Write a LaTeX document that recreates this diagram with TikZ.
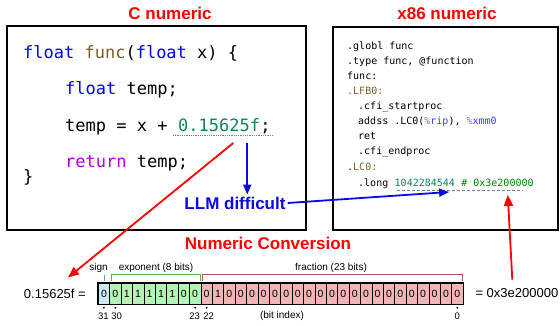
\documentclass[tikz,border=0pt]{standalone}
\usepackage{fontspec}
\setmainfont{Liberation Sans}
\setmonofont{DejaVu Sans Mono}
\usetikzlibrary{arrows.meta,positioning,calc}

\definecolor{kwblue}{HTML}{0000FF}
\definecolor{fnbrown}{HTML}{795E26}
\definecolor{retpurple}{HTML}{AF00DB}
\definecolor{numgreen}{HTML}{098658}
\definecolor{cmtgreen}{HTML}{008000}
\definecolor{regblue}{HTML}{3B3BFF}
\definecolor{llmblue}{HTML}{0A0AE6}
\definecolor{signfill}{HTML}{C6EBF6}
\definecolor{expfill}{HTML}{B5F2B5}
\definecolor{fracfill}{HTML}{F2B5B5}
\definecolor{signline}{HTML}{5E9E9E}
\definecolor{expline}{HTML}{66AA55}
\definecolor{fracline}{HTML}{A85858}

\tikzset{
  title/.style={text=red,font=\fontsize{17}{20}\selectfont\bfseries},
  codebox/.style={draw,line width=1.8pt},
  ccode/.style={anchor=base west,inner sep=0pt,font=\fontsize{17}{20}\ttfamily},
  asm/.style={anchor=base west,inner sep=0pt,font=\fontsize{10}{12}\ttfamily},
  bitcell/.style={draw,line width=0.5pt,minimum width=11.4pt,minimum height=21pt,
    inner sep=0pt,anchor=west,font=\fontsize{10.5}{12}\selectfont},
  bitlabel/.style={inner sep=0pt,font=\fontsize{10}{12}\selectfont},
  redarrow/.style={draw=red,line width=1.8pt,-{Triangle[length=11pt,width=9pt]}},
  bluearrow/.style={draw=llmblue,line width=1.8pt,-{Triangle[length=10pt,width=8pt]}},
}

\begin{document}
\begin{tikzpicture}[x=1pt,y=-1pt]
  \useasboundingbox (0,0) rectangle (560,326);

  % titles
  \node[title] (ctitle) at (170,13) {C numeric};
  \node[title] (xtitle) at (447,13) {x86 numeric};
  \node[title] (ntitle) at (268,243) {Numeric Conversion};

  % code boxes
  \draw[codebox] (7,26) rectangle (306,230);
  \draw[codebox] (333,27) rectangle (558,230);

  % C source
  \node[ccode] (c1) at (23,59) {\textcolor{kwblue}{float} \textcolor{fnbrown}{func}(\textcolor{kwblue}{float} x) \{};
  \node[ccode] (c2) at (65,95) {\textcolor{kwblue}{float} temp;};
  \node[ccode] (c3) at (65,132) {temp = x +};
  \node[ccode,text=numgreen] (cnum) at ($(c3.base east)+(10.23,0)$) {0.15625f};
  \node[ccode] (csemi) at (cnum.base east) {;};
  \node[ccode] (c4) at (65,168) {\textcolor{retpurple}{return} temp;};
  \node[ccode] (c5) at (23,183) {\}};
  \draw[gray,densely dotted,line width=0.8pt] ($(cnum.base west)+(-5,3)$) -- ($(csemi.base east)+(2,3)$);

  % x86 assembly
  \node[asm] (a1) at (347,50) {.globl func};
  \node[asm] (a2) at (347,65) {.type func, @function};
  \node[asm] (a3) at (347,80) {func:};
  \node[asm,text=fnbrown] (a4) at (347,95) {.LFB0:};
  \node[asm] (a5) at (358,110) {.cfi\_startproc};
  \node[asm] (a6) at (358,125) {addss .LC0(\textcolor{gray}{\%}\textcolor{regblue}{rip}), \textcolor{gray}{\%}\textcolor{regblue}{xmm0}};
  \node[asm] (a7) at (358,140) {ret};
  \node[asm] (a8) at (358,155) {.cfi\_endproc};
  \node[asm] (a9) at (347,171) {\textcolor{kwblue}{.}\textcolor{fnbrown}{LC0:}};
  \node[asm] (along) at (358,186) {.long};
  \node[asm,text=numgreen] (anum) at ($(along.base east)+(6.02,0)$) {1042284544};
  \node[asm,text=cmtgreen] (ahex) at ($(anum.base east)+(6.02,0)$) {\# 0x3e200000};
  \draw[gray,densely dashed,line width=0.6pt] ($(anum.base west)+(2,4.5)$) -- ($(ahex.base east)+(-11,4.5)$);

  % bit layout
  \foreach \b [count=\i from 0] in {0,0,1,1,1,1,1,0,0,0,1,0,0,0,0,0,0,0,0,0,0,0,0,0,0,0,0,0,0,0,0,0} {
    \ifnum\i=0 \def\cellfill{signfill}\else\ifnum\i<9 \def\cellfill{expfill}\else\def\cellfill{fracfill}\fi\fi
    \node[bitcell,fill=\cellfill] (bit\i) at ({98+11.4*\i},293.5) {\b};
  }
  \draw[line width=1.3pt] (bit0.north west) rectangle (bit31.south east);

  \draw[signline,line width=0.7pt] ($(bit0.north)+(0,-8)$) -- ($(bit0.north)+(0,-2)$);
  \draw[expline,line width=0.7pt] ($(bit1.north west)+(1.5,-2)$) |- ($(bit8.north east)+(-0.5,-8)$) -- ++(0,6);
  \draw[fracline,line width=0.7pt] ($(bit9.north west)+(1.5,-2)$) |- ($(bit31.north east)+(-0.5,-8)$) -- ++(0,6);

  \node[bitlabel] (lsign) at (98.5,268) {sign};
  \node[bitlabel] (lexp) at (156,268) {exponent (8 bits)};
  \node[bitlabel] (lfrac) at (331,268) {fraction (23 bits)};

  \foreach \i/\idx/\dx in {0/31/-0.5,1/30/1.2,8/23/-0.5,9/22/2,31/0/0} {
    \fill ($(bit\i.south)+(0,3.5)$) circle (1pt);
    \node[bitlabel,font=\fontsize{9.5}{11}\selectfont] (idx\i) at ($(bit\i.south)+(\dx,11.5)$) {\idx};
  }
  \node[bitlabel] (lidx) at (282,315.5) {(bit index)};

  \node[anchor=east,inner sep=0pt,font=\fontsize{13}{15}\selectfont] (lhs) at ($(bit0.west)+(-12,0)$) {0.15625f =};
  \node[anchor=west,inner sep=0pt,font=\fontsize{13}{15}\selectfont] (rhs) at ($(bit31.east)+(12,0)$) {= 0x3e200000};

  % LLM label and arrows
  \node[text=llmblue,font=\fontsize{17}{20}\selectfont\bfseries,inner sep=2pt] (llm) at (235,203) {LLM difficult};

  \coordinate (cdown) at ($(cnum.base east)+(-13,11)$);
  \coordinate (cleft) at ($(cnum.base east)+(-27,11)$);
  \coordinate (adec) at ($(anum.base east)+(-6,6)$);
  \coordinate (ahexpt) at ($(ahex.base east)+(-26,9)$);
  \coordinate (lhstop) at ($(lhs.north east)+(-18,-11)$);
  \coordinate (rhstop) at ($(rhs.north west)+(37,-9)$);

  \draw[bluearrow] (cdown) -- (cdown |- llm.north);
  \draw[bluearrow] (llm.east) -- (adec);
  \draw[redarrow] (cleft) -- (lhstop);
  \draw[redarrow] (rhstop) -- (ahexpt);
\end{tikzpicture}
\end{document}
